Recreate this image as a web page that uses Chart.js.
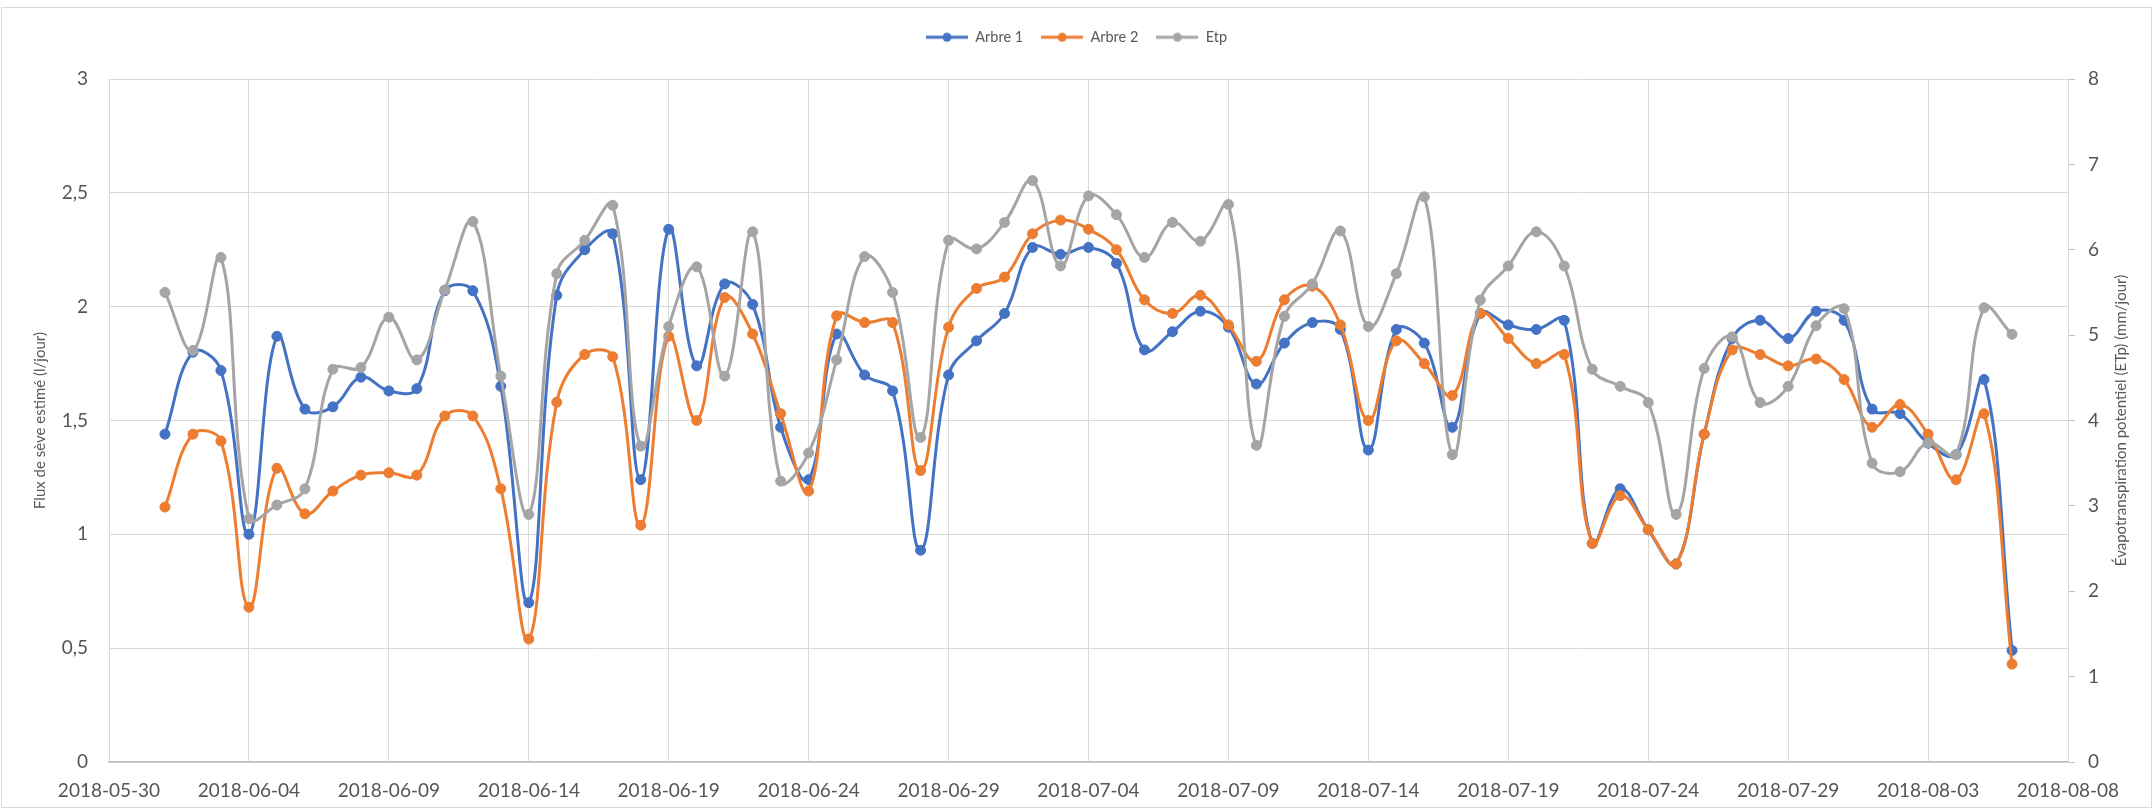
<!DOCTYPE html>
<html>
<head>
<meta charset="utf-8">
<title>Flux de sève et ETp</title>
<script src="https://cdn.jsdelivr.net/npm/chart.js@4.4.1/dist/chart.umd.min.js"></script>
<style>
  html, body { margin: 0; padding: 0; background: #ffffff; }
  canvas { display: block; }
</style>
</head>
<body>
<canvas id="chart" width="2153" height="810"></canvas>
<script>
// Daily measurements, 1 June to 6 August 2018
const dates = [
  '2018-06-01','2018-06-02','2018-06-03','2018-06-04','2018-06-05','2018-06-06','2018-06-07','2018-06-08','2018-06-09','2018-06-10',
  '2018-06-11','2018-06-12','2018-06-13','2018-06-14','2018-06-15','2018-06-16','2018-06-17','2018-06-18','2018-06-19','2018-06-20',
  '2018-06-21','2018-06-22','2018-06-23','2018-06-24','2018-06-25','2018-06-26','2018-06-27','2018-06-28','2018-06-29','2018-06-30',
  '2018-07-01','2018-07-02','2018-07-03','2018-07-04','2018-07-05','2018-07-06','2018-07-07','2018-07-08','2018-07-09','2018-07-10',
  '2018-07-11','2018-07-12','2018-07-13','2018-07-14','2018-07-15','2018-07-16','2018-07-17','2018-07-18','2018-07-19','2018-07-20',
  '2018-07-21','2018-07-22','2018-07-23','2018-07-24','2018-07-25','2018-07-26','2018-07-27','2018-07-28','2018-07-29','2018-07-30',
  '2018-07-31','2018-08-01','2018-08-02','2018-08-03','2018-08-04','2018-08-05','2018-08-06'
];

// Estimated sap flow (l/jour)
const arbre1 = [
  1.44, 1.80, 1.72, 1.00, 1.87, 1.55, 1.56, 1.69, 1.63, 1.64,
  2.07, 2.07, 1.65, 0.70, 2.05, 2.25, 2.32, 1.24, 2.34, 1.74,
  2.10, 2.01, 1.47, 1.24, 1.88, 1.70, 1.63, 0.93, 1.70, 1.85,
  1.97, 2.26, 2.23, 2.26, 2.19, 1.81, 1.89, 1.98, 1.91, 1.66,
  1.84, 1.93, 1.90, 1.37, 1.90, 1.84, 1.47, 1.97, 1.92, 1.90,
  1.94, 0.96, 1.20, 1.02, 0.87, 1.44, 1.86, 1.94, 1.86, 1.98,
  1.94, 1.55, 1.53, 1.40, 1.35, 1.68, 0.49
];
const arbre2 = [
  1.12, 1.44, 1.41, 0.68, 1.29, 1.09, 1.19, 1.26, 1.27, 1.26,
  1.52, 1.52, 1.20, 0.54, 1.58, 1.79, 1.78, 1.04, 1.87, 1.50,
  2.04, 1.88, 1.53, 1.19, 1.96, 1.93, 1.93, 1.28, 1.91, 2.08,
  2.13, 2.32, 2.38, 2.34, 2.25, 2.03, 1.97, 2.05, 1.92, 1.76,
  2.03, 2.09, 1.92, 1.50, 1.85, 1.75, 1.61, 1.97, 1.86, 1.75,
  1.79, 0.96, 1.17, 1.02, 0.87, 1.44, 1.81, 1.79, 1.74, 1.77,
  1.68, 1.47, 1.57, 1.44, 1.24, 1.53, 0.43
];

// Potential evapotranspiration (mm/jour)
const etp = [
  5.50, 4.82, 5.91, 2.85, 3.01, 3.20, 4.60, 4.62, 5.21, 4.71,
  5.53, 6.33, 4.52, 2.90, 5.72, 6.11, 6.52, 3.70, 5.10, 5.80,
  4.52, 6.21, 3.29, 3.62, 4.71, 5.92, 5.50, 3.80, 6.11, 6.01,
  6.32, 6.81, 5.81, 6.63, 6.41, 5.91, 6.32, 6.10, 6.53, 3.71,
  5.22, 5.60, 6.22, 5.10, 5.72, 6.62, 3.60, 5.41, 5.81, 6.21,
  5.81, 4.60, 4.40, 4.21, 2.90, 4.61, 4.98, 4.21, 4.40, 5.11,
  5.31, 3.50, 3.40, 3.74, 3.60, 5.32, 5.01
];

// Date axis labels, one every five days
const xTickLabels = [
  '2018-05-30','2018-06-04','2018-06-09','2018-06-14','2018-06-19','2018-06-24','2018-06-29','2018-07-04',
  '2018-07-09','2018-07-14','2018-07-19','2018-07-24','2018-07-29','2018-08-03','2018-08-08'
];

const seriesNames = ['Arbre 1', 'Arbre 2', 'Etp'];
const seriesColors = ['#4472C4', '#ED7D31', '#A5A5A5'];
const leftTitle = 'Flux de sève estimé (l/jour)';
const rightTitle = 'Évapotranspiration potentiel (ETp) (mm/jour)';

const FONT = 'Lato, "Liberation Sans", sans-serif';
const TEXT = '#595959';
const TICK = '#555555';
const GRID = '#d9d9d9';
const DAY = 86400000;
const origin = Date.parse(xTickLabels[0]);
const dayOf = d => Math.round((Date.parse(d) - origin) / DAY);
const toPoints = vals => vals.map((v, i) => ({ x: dayOf(dates[i]), y: v }));

// Legend marker: short line with a dot in the middle
function legendMark(color) {
  const c = document.createElement('canvas');
  c.width = 42; c.height = 12;
  const g = c.getContext('2d');
  g.strokeStyle = color; g.lineWidth = 3;
  g.beginPath(); g.moveTo(0, 6); g.lineTo(42, 6); g.stroke();
  g.fillStyle = color;
  g.beginPath(); g.arc(21, 6, 4.5, 0, Math.PI * 2); g.fill();
  return c;
}
const marks = seriesColors.map(legendMark);

function lineSet(i, vals, axis, order) {
  return {
    label: seriesNames[i],
    data: toPoints(vals),
    yAxisID: axis,
    order: order,
    borderColor: seriesColors[i],
    backgroundColor: seriesColors[i],
    borderWidth: 3,
    pointRadius: 5,
    pointBorderWidth: 1,
    pointBackgroundColor: seriesColors[i],
    pointBorderColor: seriesColors[i],
    tension: 0.4,
    fill: false
  };
}

const frame = {
  id: 'frame',
  beforeDraw(chart) {
    const ctx = chart.ctx;
    ctx.save();
    ctx.fillStyle = '#ffffff';
    ctx.fillRect(0, 0, chart.width, chart.height);
    ctx.strokeStyle = '#d9d9d9';
    ctx.lineWidth = 1;
    ctx.strokeRect(1.5, 7.5, chart.width - 3, chart.height - 10);
    ctx.restore();
  },
  afterDraw(chart) {
    const ctx = chart.ctx;
    const a = chart.chartArea;
    const s = chart.scales.y2;
    ctx.save();
    ctx.translate(s.right - 32, (a.top + a.bottom) / 2);
    ctx.rotate(-Math.PI / 2);
    ctx.font = '15px ' + FONT;
    ctx.fillStyle = TEXT;
    ctx.textAlign = 'center';
    ctx.textBaseline = 'middle';
    ctx.fillText(rightTitle, 0, 0);
    ctx.restore();
  }
};

const legendSize = {
  id: 'legendSize',
  beforeInit(chart) {
    const fit = chart.legend.fit;
    chart.legend.fit = function () {
      fit.call(this);
      this.height = 67;
    };
  }
};

new Chart(document.getElementById('chart'), {
  type: 'line',
  data: {
    datasets: [
      lineSet(0, arbre1, 'y', 3),
      lineSet(1, arbre2, 'y', 2),
      lineSet(2, etp, 'y2', 1)
    ]
  },
  options: {
    responsive: false,
    animation: false,
    layout: { padding: { top: 12, left: 0, right: 0, bottom: 0 } },
    plugins: {
      tooltip: { enabled: false },
      legend: {
        position: 'top',
        labels: {
          usePointStyle: true,
          pointStyleWidth: 42,
          padding: 18,
          color: TEXT,
          font: { family: FONT, size: 14.5 },
          sort: (a, b) => a.datasetIndex - b.datasetIndex,
          generateLabels(chart) {
            const items = Chart.defaults.plugins.legend.labels.generateLabels(chart);
            items.forEach(it => { it.pointStyle = marks[it.datasetIndex]; });
            return items;
          }
        }
      }
    },
    scales: {
      x: {
        type: 'linear',
        min: 0,
        max: (xTickLabels.length - 1) * 5,
        afterFit(s) { s.height = 48; },
        ticks: {
          stepSize: 5,
          autoSkip: false,
          maxRotation: 0,
          padding: 17,
          color: TICK,
          font: { family: FONT, size: 19 },
          callback: v => xTickLabels[Math.round(v / 5)]
        },
        grid: { color: GRID, drawTicks: false },
        border: { color: '#bfbfbf', width: 1.5 }
      },
      y: {
        position: 'left',
        min: 0,
        max: 3,
        afterFit(s) { s.width = 109; },
        ticks: {
          stepSize: 0.5,
          padding: 21,
          color: TICK,
          font: { family: FONT, size: 19 },
          callback: v => String(v).replace('.', ',')
        },
        grid: { color: GRID, drawTicks: false },
        border: { color: GRID },
        title: {
          display: true,
          text: leftTitle,
          color: TEXT,
          font: { family: FONT, size: 15 },
          padding: { top: 31, bottom: 0 }
        }
      },
      y2: {
        position: 'right',
        min: 0,
        max: 8,
        afterFit(s) { s.width = 85; },
        ticks: {
          stepSize: 1,
          padding: 13,
          color: TICK,
          font: { family: FONT, size: 19 }
        },
        grid: { drawOnChartArea: false, drawTicks: true, tickLength: 7, color: '#bfbfbf' },
        border: { color: GRID }
      }
    }
  },
  plugins: [frame, legendSize]
});
</script>
</body>
</html>
